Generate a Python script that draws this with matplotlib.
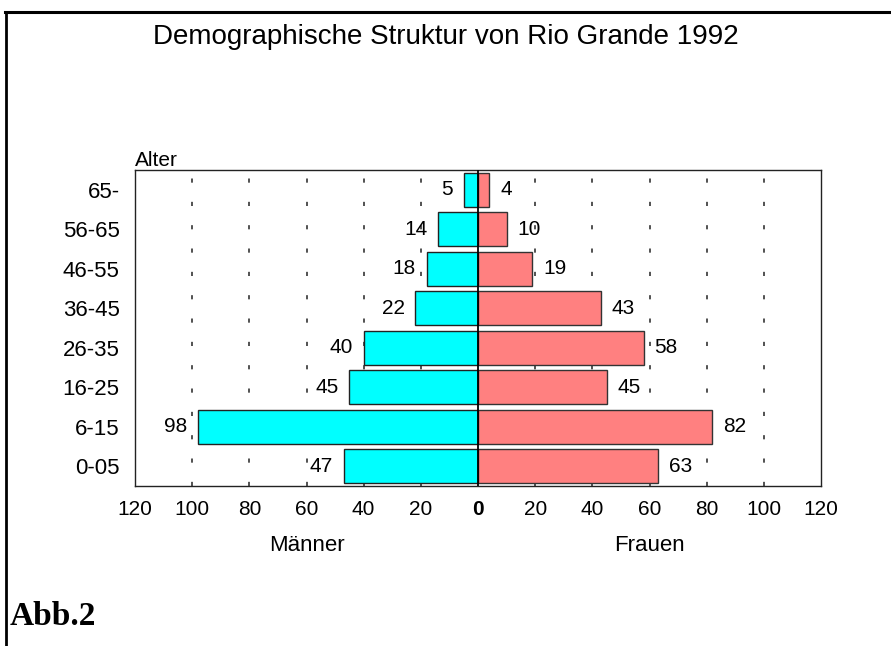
import matplotlib
matplotlib.use("Agg")
import matplotlib.pyplot as plt
from matplotlib.lines import Line2D

# Altersgruppen (oben nach unten) und Werte
alter = ["65-", "56-65", "46-55", "36-45", "26-35", "16-25", "6-15", "0-05"]
maenner = [5, 14, 18, 22, 40, 45, 98, 47]
frauen = [4, 10, 19, 43, 58, 45, 82, 63]
ticks = [-120, -100, -80, -60, -40, -20, 0, 20, 40, 60, 80, 100, 120]
tick_labels = ["120", "100", "80", "60", "40", "20", "0", "20", "40", "60", "80", "100", "120"]

plt.rcParams['font.family'] = ['Liberation Sans', 'DejaVu Sans']

fig = plt.figure(figsize=(8.91, 6.46), dpi=100)
ax = fig.add_axes([0.1515, 0.2477, 0.7700, 0.4891])

y = list(range(len(alter)))[::-1]
ax.barh(y, [-m for m in maenner], height=0.86, color="#00ffff",
        edgecolor="#222222", linewidth=1.0, zorder=3)
ax.barh(y, frauen, height=0.86, color="#ff8080",
        edgecolor="#333333", linewidth=1.0, zorder=3)

for yi, m, f in zip(y, maenner, frauen):
    ax.text(-m - 3.7, yi, str(m), ha="right", va="center", fontsize=15, zorder=4)
    ax.text(f + 3.7, yi, str(f), ha="left", va="center", fontsize=15, zorder=4)

ax.set_xlim(-120, 120)
ax.set_ylim(-0.5, len(alter) - 0.5)
ax.set_xticks(ticks)
ax.set_xticklabels(tick_labels, fontsize=15)
ax.set_yticks(y)
ax.set_yticklabels(alter, fontsize=16)
ax.tick_params(axis="both", length=0)
ax.tick_params(axis="x", pad=10)
ax.tick_params(axis="y", pad=11)
ax.get_xticklabels()[6].set_fontweight("bold")

# gestrichelte Gitterlinien, durchgezogene Nulllinie
for t in ticks[1:-1]:
    if t == 0:
        continue
    ax.axvline(t, color="#333333", linewidth=1.2, dashes=(2.5, 11.5), zorder=1)
ax.axvline(0, color="black", linewidth=1.3, zorder=5)

for s in ax.spines.values():
    s.set_color("#222222")
    s.set_linewidth(1.0)

fig.text(0.5, 0.943, "Demographische Struktur von Rio Grande 1992",
         ha="center", va="center", fontsize=20)
ax.text(-120, 7.75, "Alter", ha="left", va="center", fontsize=15)
ax.text(-60, -2.0, "Männer", ha="center", va="center", fontsize=16)
ax.text(60, -2.0, "Frauen", ha="center", va="center", fontsize=16)
fig.text(0.011, 0.046, "Abb.2", ha="left", va="center", fontsize=24,
         fontweight="bold", family=["Liberation Serif", "DejaVu Serif"])

# Rahmen links und oben
fig.add_artist(Line2D([0.0068, 0.0068], [0.0, 0.9814], color="black",
                      linewidth=2.0, transform=fig.transFigure))
fig.add_artist(Line2D([0.0056, 1.0], [0.9814, 0.9814], color="black",
                      linewidth=2.2, transform=fig.transFigure))

fig.savefig("out.png", dpi=100, facecolor="white")
